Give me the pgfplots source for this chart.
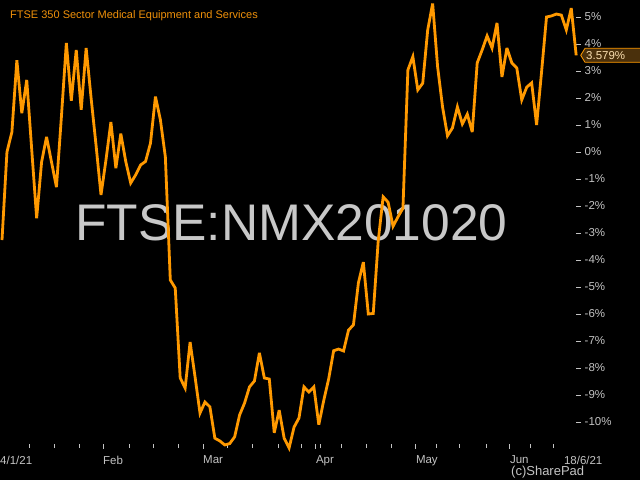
\documentclass[border=0pt]{standalone}
\usepackage{fontspec}
\setmainfont{Liberation Sans}
\usepackage{pgfplots}
\pgfplotsset{compat=1.18}
\usepackage{pgfplotstable}
\definecolor{lineor}{RGB}{255,153,0}
\definecolor{titleor}{RGB}{240,145,10}
\definecolor{lblgray}{RGB}{195,195,195}
\definecolor{wmgray}{RGB}{200,200,200}
\definecolor{boxfill}{RGB}{74,48,12}
\definecolor{boxtext}{RGB}{250,222,175}
\pgfplotstableread{
i v
0 -3.26
1 0.0
2 0.74
3 3.4
4 1.44
5 2.67
6 0.1
7 -2.45
8 -0.37
9 0.56
10 -0.37
11 -1.3
12 1.3
13 4.04
14 1.9
15 3.78
16 1.56
17 3.85
18 2.0
19 0.25
20 -1.59
21 -0.3
22 1.11
23 -0.6
24 0.68
25 -0.35
26 -1.15
27 -0.85
28 -0.48
29 -0.35
30 0.33
31 2.05
32 1.19
33 -0.18
34 -4.74
35 -5.04
36 -8.37
37 -8.74
38 -7.04
39 -8.33
40 -9.67
41 -9.26
42 -9.44
43 -10.6
44 -10.7
45 -10.85
46 -10.8
47 -10.55
48 -9.74
49 -9.3
50 -8.7
51 -8.48
52 -7.44
53 -8.37
54 -8.41
55 -10.4
56 -9.56
57 -10.6
58 -10.96
59 -10.19
60 -9.85
61 -8.7
62 -8.89
63 -8.7
64 -10.1
65 -9.2
66 -8.4
67 -7.36
68 -7.3
69 -7.37
70 -6.6
71 -6.4
72 -4.85
73 -4.08
74 -6.0
75 -5.98
76 -3.3
77 -1.66
78 -1.86
79 -2.75
80 -2.4
81 -2.08
82 3.04
83 3.53
84 2.3
85 2.55
86 4.52
87 5.5
88 3.16
89 1.67
90 0.6
91 0.89
92 1.67
93 1.04
94 1.4
95 0.74
96 3.3
97 3.78
98 4.3
99 3.85
100 4.78
101 2.78
102 3.85
103 3.3
104 3.11
105 1.93
106 2.4
107 2.56
108 1.0
109 2.96
110 5.0
111 5.04
112 5.11
113 5.07
114 4.52
115 5.33
116 3.579
}\series
\begin{document}
\begin{tikzpicture}
\useasboundingbox (0pt,0pt) rectangle (640pt,480pt);
\fill[black] (0pt,0pt) rectangle (640pt,480pt);
\node[anchor=base west, inner sep=0pt, text=wmgray, font=\fontsize{51.5}{52}\selectfont] at (75pt,240pt) {FTSE:NMX201020};
\node[anchor=base west, inner sep=0pt, text=titleor, font=\fontsize{11}{12}\selectfont] at (10pt,461pt) {FTSE 350 Sector Medical Equipment and Services};
\node[anchor=base west, inner sep=0pt, text=lblgray, font=\fontsize{13}{14}\selectfont] at (511pt,5pt) {(c)SharePad};
\begin{axis}[
  at={(0pt,36pt)}, anchor=south west,
  scale only axis, width=576pt, height=444pt,
  xmin=-0.404, xmax=115.96,
  ymin=-10.815, ymax=5.63,
  clip=false,
  axis line style={draw=none},
  tick align=outside,
  major tick length=4.5pt, minor tick length=4pt,
  tick style={color=lblgray, line width=0.9pt},
  xtick pos=bottom, ytick pos=right,
  yticklabel pos=right,
  ytick={-10,-9,-8,-7,-6,-5,-4,-3,-2,-1,0,1,2,3,4,5},
  yticklabels={-10\%,-9\%,-8\%,-7\%,-6\%,-5\%,-4\%,-3\%,-2\%,-1\%,0\%,1\%,2\%,3\%,4\%,5\%},
  xtick={20.4,40.6,63.4,83.6,102.6},
  xticklabels={Feb,Mar,Apr,May,Jun},
  minor xtick={5.45,10.5,15.6,25.7,30.5,35.6,45.5,50.5,55.8,60.4,64.4,68.5,73.7,78.6,87.7,92.5,97.8,106.7,111.5},
  extra x ticks={-0.404,113.5},
  extra x tick labels={4/1/21,18/6/21},
  extra x tick style={tick style={draw=none}},
  ticklabel style={font=\fontsize{11.5}{12}\selectfont, text=lblgray},
  xticklabel style={anchor=north west, inner sep=0pt, yshift=-7pt},
  yticklabel style={anchor=west, inner sep=0pt, xshift=4pt},
]
\addplot[color=lineor, line width=2.8pt, line join=miter, miter limit=4, no markers] table[x=i, y=v] {\series};
\end{axis}
\fill[boxfill, draw=lineor, line width=0.8pt] (580.7pt,424.7pt) -- (585pt,431.7pt) -- (641pt,431.7pt) -- (641pt,417.7pt) -- (585pt,417.7pt) -- cycle;
\node[anchor=west, inner sep=0pt, text=boxtext, font=\fontsize{11.5}{12}\selectfont] at (586pt,424.5pt) {3.579\%};
\end{tikzpicture}
\end{document}
